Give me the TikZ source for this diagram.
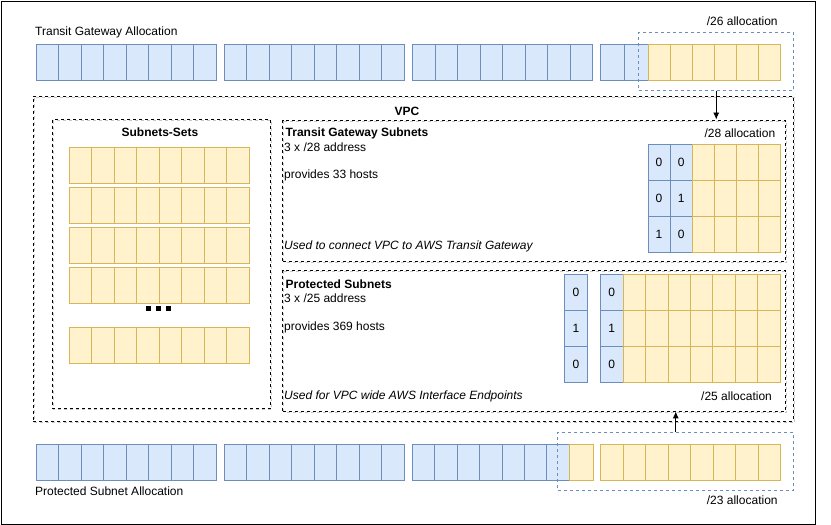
\documentclass[tikz,border=0pt]{standalone}
\usepackage{fontspec}
\setmainfont{Liberation Sans}
\usetikzlibrary{arrows.meta}
\definecolor{bfill}{HTML}{DAE8FC}
\definecolor{bline}{HTML}{6C8EBF}
\definecolor{yfill}{HTML}{FFF2CC}
\definecolor{yline}{HTML}{D6B656}
\begin{document}
\begin{tikzpicture}[x=1pt,y=-1pt,font=\fontsize{12}{14}\selectfont,
 bcell/.style={draw=bline,fill=bfill,line width=0.9pt},
 ycell/.style={draw=yline,fill=yfill,line width=0.9pt},
 dbox/.style={draw=black,dash pattern=on 3pt off 3pt,line width=0.9pt,inner sep=0pt,anchor=north west},
 abox/.style={draw=bline,dash pattern=on 3pt off 3pt,line width=0.9pt,inner sep=0pt,anchor=north west},
 sh/.style={draw=gray!45,dash pattern=on 3pt off 3pt,line width=0.9pt},
 txt/.style={anchor=base west,inner sep=0pt},
 digit/.style={inner sep=0pt},
 conn/.style={-{Latex[length=7pt,width=6pt]},line width=0.9pt}]
\useasboundingbox (0,0) rectangle (831,525);
\node[draw,line width=1.2pt,minimum width=814pt,minimum height=523pt,anchor=north west,inner sep=0pt] (frame) at (0.6,0.6) {};

% ---- top row (Transit Gateway Allocation)
\foreach \g in {36,224,412.5}{
  \foreach \i in {0,...,7} \draw[bcell] ({\g+22.5*\i},44.3) rectangle ++(22.5,36.4);
}
\foreach \i in {0,1} \draw[bcell] ({600.5+24*\i},44.3) rectangle ++(24,36.4);
\foreach \i in {0,...,5} \draw[ycell] ({648.5+21.97*\i},44.3) rectangle ++(21.97,36.4);

% ---- bottom row (Protected Subnet Allocation)
\foreach \g in {36,224}{
  \foreach \i in {0,...,7} \draw[bcell] ({\g+22.5*\i},444.3) rectangle ++(22.5,36.4);
}
\foreach \i in {0,...,6} \draw[bcell] ({412.5+22.4*\i},444.3) rectangle ++(22.4,36.4);
\draw[ycell] (569.3,444.3) rectangle ++(23.7,36.4);
\foreach \i in {0,...,7} \draw[ycell] ({600.5+22.5*\i},444.3) rectangle ++(22.5,36.4);

% ---- shadows of dashed boxes
\draw[sh] (34.5,97.8) rectangle (794.8,422.5);
\draw[sh] (53.2,120.5) rectangle (271.5,409.8);
\draw[sh] (283.8,121) rectangle (786.5,262);
\draw[sh] (283.8,271) rectangle (786.5,412);

% ---- dashed boxes
\node[dbox,minimum width=760pt,minimum height=325pt] (vpc) at (33,96) {};
\node[dbox,minimum width=218.3pt,minimum height=289.3pt] (sets) at (51.7,119) {};
\node[dbox,minimum width=502.7pt,minimum height=141pt] (tgw) at (282.3,119.5) {};
\node[dbox,minimum width=502.7pt,minimum height=141pt] (prot) at (282.3,269.5) {};

% ---- subnet sets rows
\foreach \y in {147.3,187.3,227.3,267.3,327.3}{
  \foreach \i in {0,...,7} \draw[ycell] ({69.3+22.5*\i},\y) rectangle ++(22.5,36);
}
\foreach \x in {148.3,158.3,168.3} \fill (\x-2.2,306.1) rectangle ++(4.4,4.4);

% ---- TGW grid
\foreach \y/\a/\b in {144.3/0/0,180.3/0/1,216.3/1/0}{
  \draw[bcell] (648,\y) rectangle ++(22,36);
  \draw[bcell] (670,\y) rectangle ++(22.5,36);
  \foreach \i in {0,...,3} \draw[ycell] ({692.5+21.9*\i},\y) rectangle ++(21.9,36);
  \node[digit] at (659,\y+18) {\a};
  \node[digit] at (681.2,\y+18) {\b};
}

% ---- Protected grid
\foreach \y/\a in {274.3/0,310.3/1,346.3/0}{
  \draw[bcell] (564.3,\y) rectangle ++(23.4,36);
  \draw[bcell] (600.3,\y) rectangle ++(23,36);
  \foreach \i in {0,...,6} \draw[ycell] ({623.3+22.39*\i},\y) rectangle ++(22.39,36);
  \node[digit] at (576,\y+18) {\a};
  \node[digit] at (611.8,\y+18) {\a};
}

% ---- allocation boxes
\node[abox,minimum width=155pt,minimum height=57.7pt] (a26) at (638.3,32.3) {};
\node[abox,minimum width=236pt,minimum height=57.7pt] (a23) at (557.3,432.3) {};

% ---- connectors
\draw[conn] (a26.south) -- (a26.south |- tgw.north);
\draw[conn] (a23.north) -- (a23.north |- prot.south);

% ---- texts
\node[txt] (t1) at (35,35) {Transit Gateway Allocation};
\node[txt] (t2) at (706.7,25.5) {/26 allocation};
\node[anchor=base,inner sep=0pt,font=\fontsize{12}{14}\selectfont\bfseries] (t3) at (407,115) {VPC};
\node[anchor=base,inner sep=0pt,font=\fontsize{12}{14}\selectfont\bfseries] (t4) at (160,136) {Subnets-Sets};
\node[txt,font=\fontsize{12}{14}\selectfont\bfseries] (t5) at (285.5,136.8) {Transit Gateway Subnets};
\node[txt] (t6) at (284,151) {3 x /28 address};
\node[txt] (t7) at (284,178.5) {provides 33 hosts};
\node[txt,font=\fontsize{12}{14}\selectfont\itshape] (t8) at (284,249.5) {Used to connect VPC to AWS Transit Gateway};
\node[txt] (t9) at (704.3,137) {/28 allocation};
\node[txt,font=\fontsize{12}{14}\selectfont\bfseries] (t10) at (285.5,288) {Protected Subnets};
\node[txt] (t11) at (284,302) {3 x /25 address};
\node[txt] (t12) at (284,330) {provides 369 hosts};
\node[txt,font=\fontsize{12}{14}\selectfont\itshape] (t13) at (284,399.5) {Used for VPC wide AWS Interface Endpoints};
\node[txt] (t14) at (701,400) {/25 allocation};
\node[txt] (t15) at (706.7,504.5) {/23 allocation};
\node[txt] (t16) at (35,495) {Protected Subnet Allocation};
\end{tikzpicture}
\end{document}
